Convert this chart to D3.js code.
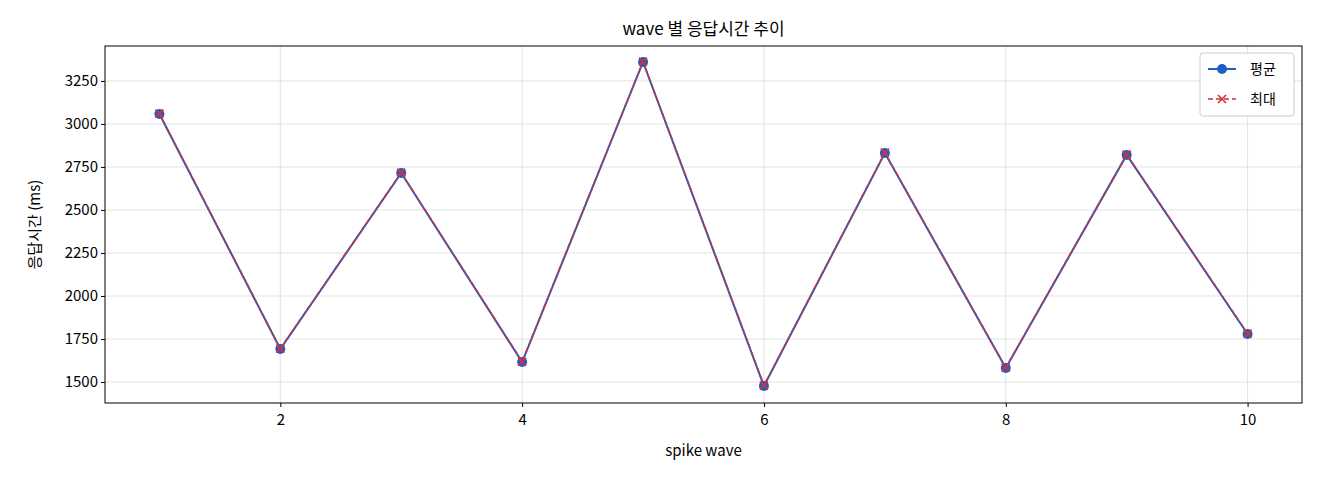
<!DOCTYPE html>
<html><head><meta charset="utf-8">
<script src="https://cdn.jsdelivr.net/npm/d3@7"></script>
<style>body{margin:0;background:#fff;font-family:"Noto Sans CJK KR","DejaVu Sans",sans-serif;}</style>
</head><body><svg id="c" width="1320" height="480"></svg>
<script>
const waves=[1,2,3,4,5,6,7,8,9,10];
const avgVals=[3058,1692,2715,1616,3360,1477,2831,1581,2820,1779];
const maxVals=[3060,1694,2717,1618,3362,1479,2833,1583,2822,1781];
const yTicks=[1500,1750,2000,2250,2500,2750,3000,3250];
const xTicks=[2,4,6,8,10];
const svg=d3.select("#c");
const L=105,R=1302,T=46,B=403;
const x=d3.scaleLinear().domain([0.55,10.45]).range([L,R]);
const y=d3.scaleLinear().domain([1378,3453]).range([B,T]);
const g=svg.append("g");
xTicks.forEach(t=>g.append("line").attr("x1",x(t)).attr("x2",x(t)).attr("y1",T).attr("y2",B).attr("stroke","#e3e3e3"));
yTicks.forEach(t=>g.append("line").attr("x1",L).attr("x2",R).attr("y1",y(t)).attr("y2",y(t)).attr("stroke","#e3e3e3"));
const xa=svg.append("g").attr("transform",`translate(0,${B})`).call(d3.axisBottom(x).tickValues(xTicks).tickFormat(d3.format("d")).tickSize(4).tickSizeOuter(0));
const ya=svg.append("g").attr("transform",`translate(${L},0)`).call(d3.axisLeft(y).tickValues(yTicks).tickFormat(d3.format("d")).tickSize(4).tickSizeOuter(0));
[xa,ya].forEach(a=>{a.select(".domain").remove();a.selectAll("text").attr("font-size",15).attr("fill","#000").attr("font-family","Noto Sans CJK KR, DejaVu Sans");});
xa.selectAll("text").attr("dy","1.0em");
svg.append("rect").attr("x",L).attr("y",T).attr("width",R-L).attr("height",B-T).attr("fill","none").attr("stroke","#000");
const line=d3.line().x((d,i)=>x(waves[i])).y(d=>y(d));
svg.append("path").attr("d",line(avgVals)).attr("fill","none").attr("stroke","#1f5fbf").attr("stroke-width",2);
avgVals.forEach((v,i)=>svg.append("circle").attr("cx",x(waves[i])).attr("cy",y(v)).attr("r",5).attr("fill","#1f5fbf"));
svg.append("path").attr("d",line(maxVals)).attr("fill","none").attr("stroke","#d1313d").attr("stroke-width",1.6).attr("stroke-dasharray","5,3");
const cross=(cx,cy,s)=>`M${cx-s},${cy-s}L${cx+s},${cy+s}M${cx-s},${cy+s}L${cx+s},${cy-s}`;
maxVals.forEach((v,i)=>svg.append("path").attr("d",cross(x(waves[i]),y(v),4)).attr("stroke","#d1313d").attr("stroke-width",1.6));
svg.append("text").attr("x",(L+R)/2).attr("y",35).attr("text-anchor","middle").attr("font-size",17).text("wave 별 응답시간 추이");
svg.append("text").attr("x",(L+R)/2).attr("y",456).attr("text-anchor","middle").attr("font-size",15).text("spike wave");
svg.append("text").attr("transform",`translate(40,${(T+B)/2}) rotate(-90)`).attr("text-anchor","middle").attr("font-size",15).text("응답시간 (ms)");
const lg=svg.append("g").attr("transform","translate(1200,53)");
lg.append("rect").attr("width",94).attr("height",63).attr("rx",3).attr("fill","#fff").attr("stroke","#ccc");
lg.append("line").attr("x1",8).attr("x2",36).attr("y1",16).attr("y2",16).attr("stroke","#1f5fbf").attr("stroke-width",2);
lg.append("circle").attr("cx",22).attr("cy",16).attr("r",5).attr("fill","#1f5fbf");
lg.append("text").attr("x",50).attr("y",21).attr("font-size",14).text("평균");
lg.append("line").attr("x1",8).attr("x2",36).attr("y1",46).attr("y2",46).attr("stroke","#d1313d").attr("stroke-width",1.6).attr("stroke-dasharray","5,3");
lg.append("path").attr("d",cross(22,46,4)).attr("stroke","#d1313d").attr("stroke-width",1.6);
lg.append("text").attr("x",50).attr("y",51).attr("font-size",14).text("최대");
</script></body></html>
